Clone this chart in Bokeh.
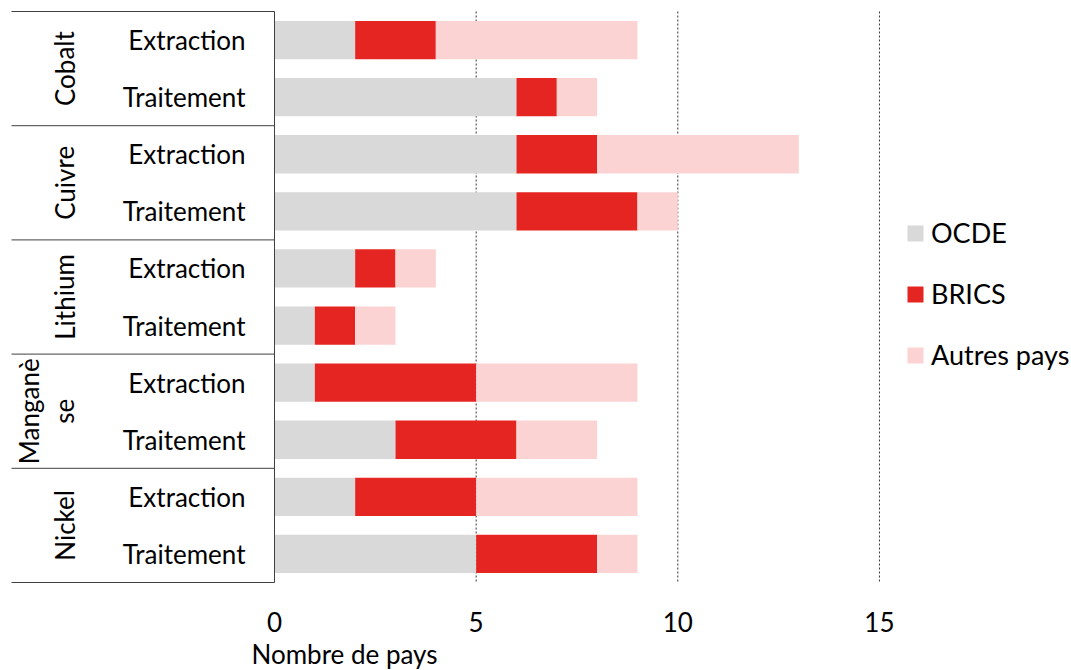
from bokeh.plotting import figure
from bokeh.models import Range1d, FixedTicker, ColumnDataSource, Legend, LegendItem, Title
from bokeh.core.properties import value
from bokeh.embed import file_html
from bokeh.resources import INLINE

# ---- data ----
groups = ["Cobalt", "Cuivre", "Lithium", "Manganèse", "Nickel"]
group_labels = ["Cobalt", "Cuivre", "Lithium", "Manganè\nse", "Nickel"]
stages = ["Extraction", "Traitement"]
series = ["OCDE", "BRICS", "Autres pays"]
ocde = [2, 6, 6, 6, 2, 1, 1, 3, 2, 5]
brics = [2, 1, 2, 3, 1, 1, 4, 3, 3, 3]
autres = [5, 1, 5, 1, 1, 1, 4, 2, 4, 1]
x_ticks = [0, 5, 10, 15]
x_title = "Nombre de pays"

colors = ["#D9D9D9", "#E52521", "#FAD3D2"]
FONT = "Lato"
FS = "26px"
LFS = "27px"
LINE = "#404040"

# ---- layout helpers (pixels -> data) ----
PX0 = 274.0      # x pixel of value 0
PPU = 40.33      # pixels per unit
ROW = 57.1       # pixels per row
def px2x(px):
    return (px - PX0) / PPU

n_rows = len(groups) * len(stages)
rows_y = list(range(n_rows))
row_stage = [stages[i % len(stages)] for i in range(n_rows)]

src = ColumnDataSource(dict(y=rows_y, OCDE=ocde, BRICS=brics, Autres=autres, stage=row_stage))

FW, FH = 1071, 585
p = figure(frame_width=FW, frame_height=FH,
           x_range=Range1d(px2x(0), px2x(FW)),
           y_range=Range1d(n_rows - 0.5 + 3 / ROW, -0.5 - 11 / ROW),
           y_axis_location=None, toolbar_location=None, output_backend="svg",
           min_border_left=0, min_border_top=0, min_border_right=0, min_border_bottom=0)
p.outline_line_color = None
p.xgrid.visible = False
p.ygrid.visible = False

# grid lines (dotted) at ticks except 0
gx = [t for t in x_ticks if t != 0]
p.segment(x0=gx, x1=gx, y0=[-0.5] * len(gx), y1=[n_rows - 0.5 + 1 / ROW] * len(gx),
          line_color="#333333", line_dash="2 2", line_width=1)

rs = p.hbar_stack(["OCDE", "BRICS", "Autres"], y="y", height=0.67, source=src,
                  fill_color=colors, line_color=None)

# table lines
bounds = [g * len(stages) - 0.5 for g in range(len(groups) + 1)]
p.segment(x0=[px2x(11)] * len(bounds), x1=[0] * len(bounds), y0=bounds, y1=bounds,
          line_color=LINE, line_width=1)
p.segment(x0=[0], x1=[0], y0=[-0.5], y1=[n_rows - 0.5], line_color=LINE, line_width=1)

# stage labels
p.text(x=px2x(245), y="y", text="stage", source=src, text_align="right",
       text_baseline="middle", text_font=value(FONT), text_font_size=value(FS), text_color="black")

# group labels (rotated)
gy = [g * len(stages) + (len(stages) - 1) / 2 for g in range(len(groups))]
p.text(x=[px2x(80)] * len(groups), y=gy, text=group_labels, angle=1.5708,
       text_align="center", text_baseline="bottom", text_line_height=1.12,
       text_font=value(FONT), text_font_size=value(FS), text_color="black")

# x axis
ax = p.xaxis[0]
ax.ticker = FixedTicker(ticks=x_ticks)
ax.axis_line_color = None
ax.major_tick_line_color = None
ax.minor_tick_line_color = None
ax.major_label_standoff = 20
ax.major_label_text_font = FONT
ax.major_label_text_font_size = FS
ax.major_label_text_color = "black"

t = Title(text=x_title, align="left", offset=251, standoff=3,
          text_font=FONT, text_font_size=FS, text_font_style="normal", text_color="black")
p.add_layout(t, "below")

legend = Legend(items=[LegendItem(label=s, renderers=[r]) for s, r in zip(series, rs)],
                location=(905, 214), padding=0, margin=0, spacing=28,
                glyph_width=20, glyph_height=20, label_height=32, label_standoff=6,
                label_text_font=FONT, label_text_font_size=LFS, label_text_color="black",
                border_line_color=None, background_fill_alpha=0)
p.add_layout(legend)

open("out.html", "w").write(file_html(p, INLINE))
